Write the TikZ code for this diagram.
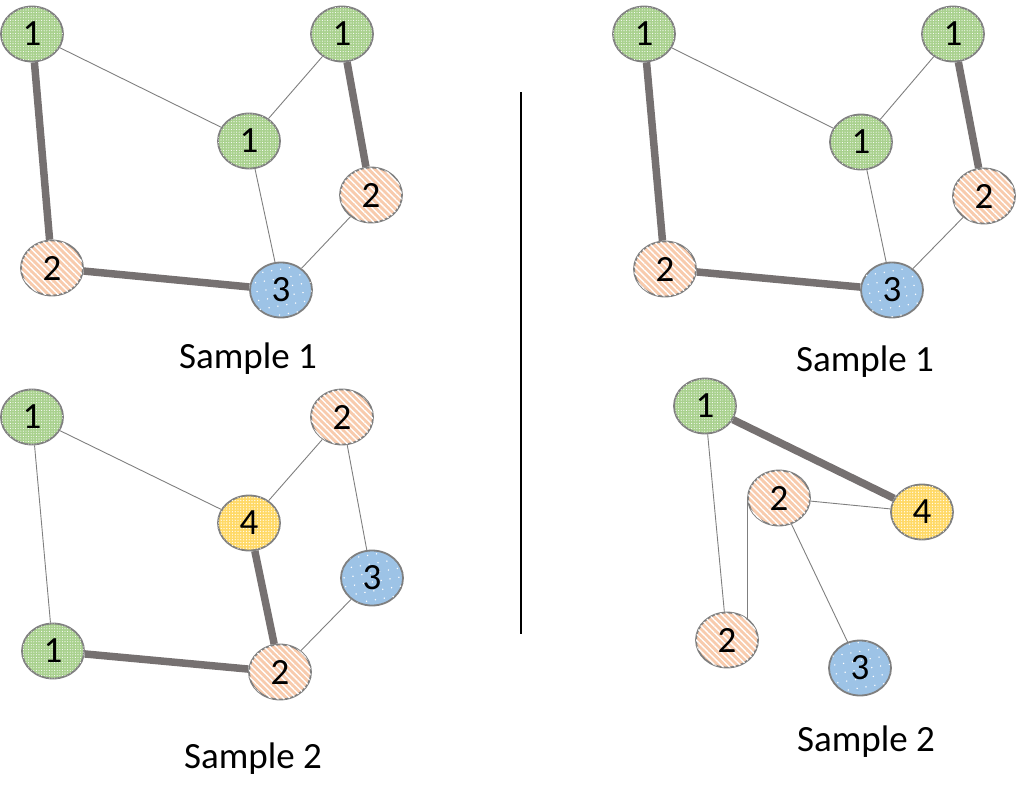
\documentclass[tikz,border=0pt]{standalone}
\usepackage{fontspec}
\setmainfont{Carlito}
\usetikzlibrary{shapes.geometric,patterns.meta,calc}
\pgfdeclarelayer{bg}
\pgfsetlayers{bg,main}
\definecolor{gfill}{HTML}{A9D18E}
\definecolor{ofill}{HTML}{F8CBAD}
\definecolor{bfill}{HTML}{9DC3E6}
\definecolor{yfill}{HTML}{FFD966}
\definecolor{bord}{HTML}{7F7F7F}
\definecolor{thick}{HTML}{767171}
\tikzset{
  vtx/.style={ellipse, draw=bord, line width=1.8pt, minimum width=62pt, minimum height=55pt, inner sep=0pt, font=\fontsize{37}{37}\selectfont},
  gnode/.style={vtx, fill=gfill, postaction={pattern={Dots[radius=0.55pt,distance=2.6pt]}, pattern color=white}},
  onode/.style={vtx, fill=ofill, postaction={pattern={Lines[angle=-45,distance=4.5pt,line width=1.4pt]}, pattern color=white}},
  bnode/.style={vtx, fill=bfill, postaction={pattern={Dots[radius=0.8pt,distance=9pt,angle=10]}, pattern color=white}},
  ynode/.style={vtx, fill=yfill, postaction={pattern={Dots[radius=0.65pt,distance=2.8pt]}, pattern color=white}},
  thin/.style={draw=bord, line width=0.9pt},
  heavy/.style={draw=thick, line width=7.5pt},
  caption/.style={anchor=base, font=\fontsize{37}{37}\selectfont, inner sep=0pt},
}
\begin{document}
\begin{tikzpicture}[x=1pt,y=-1pt]
\useasboundingbox (0,0) rectangle (1017,803);
% top left
\node[gnode] (A1) at (32,34) {1};
\node[gnode] (A2) at (342,34) {1};
\node[gnode] (A3) at (249,141) {1};
\node[onode] (A4) at (371,195) {2};
\node[onode] (A5) at (52,268) {2};
\node[bnode] (A6) at (281,290) {3};
\node[caption] (capA) at (248,368) {Sample 1};
% bottom left
\node[gnode] (B1) at (32,417) {1};
\node[onode] (B2) at (342,417) {2};
\node[ynode] (B3) at (249,523) {4};
\node[bnode] (B4) at (372,578) {3};
\node[gnode] (B5) at (53,651) {1};
\node[onode] (B6) at (280,672) {2};
\node[caption] (capB) at (253,768) {Sample 2};
% top right
\node[gnode] (C1) at (644,34) {1};
\node[gnode] (C2) at (953,34) {1};
\node[gnode] (C3) at (861,142) {1};
\node[onode] (C4) at (984,196) {2};
\node[onode] (C5) at (665,269) {2};
\node[bnode] (C6) at (892,290) {3};
\node[caption] (capC) at (865,371) {Sample 1};
% bottom right
\node[gnode] (D1) at (705,406) {1};
\node[onode] (D2) at (779,498) {2};
\node[ynode] (D4) at (922,512) {4};
\node[onode] (D5) at (727,640) {2};
\node[bnode] (D3) at (860,668) {3};
\node[caption] (capD) at (866,751) {Sample 2};
% divider
\coordinate (divtop) at (521,92);
\coordinate (divbot) at (521,634);
\draw[black, line width=1.5pt] (divtop) -- (divbot);
\begin{pgfonlayer}{bg}
\draw[thin] (A1) -- (A3);
\draw[thin] (A2) -- (A3);
\draw[thin] (A3) -- (A6);
\draw[thin] (A4) -- (A6);
\draw[heavy] (A1) -- (A5);
\draw[heavy] (A2) -- (A4);
\draw[heavy] (A5) -- (A6);
\draw[thin] (B1) -- (B3);
\draw[thin] (B1) -- (B5);
\draw[thin] (B2) -- (B3);
\draw[thin] (B2) -- (B4);
\draw[thin] (B4) -- (B6);
\draw[heavy] (B3) -- (B6);
\draw[heavy] (B5) -- (B6);
\draw[thin] (C1) -- (C3);
\draw[thin] (C2) -- (C3);
\draw[thin] (C3) -- (C6);
\draw[thin] (C4) -- (C6);
\draw[heavy] (C1) -- (C5);
\draw[heavy] (C2) -- (C4);
\draw[heavy] (C5) -- (C6);
\draw[heavy] (D1) -- (D4);
\draw[thin] (D1) -- (D5);
\draw[thin] (D2) -- (D4);
\draw[thin] (D2) -- (D3);
\draw[thin] (D2.west) -- (D2.west |- D5.north east);
\end{pgfonlayer}
\end{tikzpicture}
\end{document}
